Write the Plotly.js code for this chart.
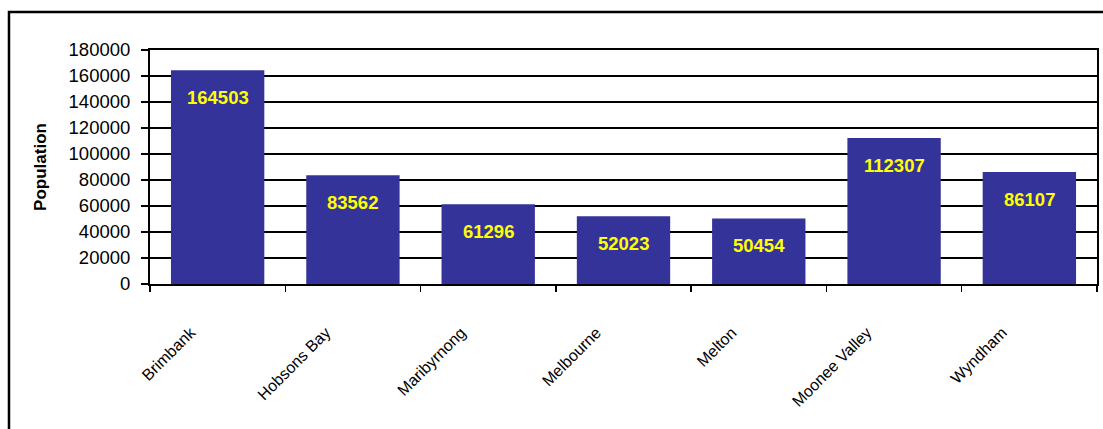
<!DOCTYPE html>
<html>
<head>
<meta charset="utf-8">
<script src="https://cdn.plot.ly/plotly-3.0.1.min.js"></script>
<style>
html,body{margin:0;padding:0;background:#fff;}
#chart{width:1103px;height:429px;}
</style>
</head>
<body>
<div id="chart"></div>
<script>
const categories = ["Brimbank", "Hobsons Bay", "Maribyrnong", "Melbourne", "Melton", "Moonee Valley", "Wyndham"];
const population = [164503, 83562, 61296, 52023, 50454, 112307, 86107];
const yTicks = [0, 20000, 40000, 60000, 80000, 100000, 120000, 140000, 160000, 180000];

const trace = {
  type: 'bar',
  x: categories,
  y: population,
  marker: {color: '#333399', line: {width: 0}},
  hoverinfo: 'none'
};

const valueLabels = categories.map((c, i) => ({
  x: c, y: population[i], xref: 'x', yref: 'y',
  text: '<b>' + population[i] + '</b>',
  showarrow: false, yanchor: 'middle', xanchor: 'center', yshift: -27,
  font: {family: 'Liberation Sans, Arial, sans-serif', size: 18.5, color: '#FFFF00'}
}));

const layout = {
  width: 1103, height: 429,
  margin: {l: 150, r: 6, t: 50, b: 145},
  paper_bgcolor: '#ffffff',
  plot_bgcolor: '#ffffff',
  showlegend: false,
  bargap: 0.31,
  font: {family: 'Liberation Sans, Arial, sans-serif', color: '#000'},
  xaxis: {
    type: 'category',
    tickson: 'boundaries',
    ticks: 'outside', ticklen: 6, tickwidth: 1.5, tickcolor: '#000',
    showline: true, linecolor: '#000', linewidth: 2, mirror: true,
    showgrid: false,
    tickangle: -45,
    ticklabelstandoff: 31,
    ticklabelshift: -27,
    tickfont: {family: 'Liberation Sans Narrow, Arial Narrow, Liberation Sans, Arial, sans-serif', size: 16, color: '#000'},
    automargin: false
  },
  yaxis: {
    range: [0, 180000],
    tickmode: 'array', tickvals: yTicks, ticktext: yTicks.map(String),
    ticks: 'outside', ticklen: 7, tickwidth: 1.5, tickcolor: '#000',
    ticklabelstandoff: 7,
    showline: true, linecolor: '#000', linewidth: 2, mirror: true,
    showgrid: true, gridcolor: '#000', gridwidth: 1.8,
    zeroline: false,
    tickfont: {family: 'Liberation Sans, Arial, sans-serif', size: 18.5, color: '#000'},
    title: {text: 'Population', font: {family: 'Liberation Sans, Arial, sans-serif', size: 17, color: '#000', weight: 'bold'}, standoff: 18},
    automargin: false
  },
  annotations: valueLabels,
  shapes: [{
    type: 'rect', xref: 'paper', yref: 'paper',
    x0: -0.1489, x1: 1.02, y0: -0.8, y1: 1.1624,
    line: {color: '#000', width: 2.5}, fillcolor: 'rgba(0,0,0,0)', layer: 'below'
  }]
};

Plotly.newPlot('chart', [trace], layout, {staticPlot: true, displayModeBar: false});
</script>
</body>
</html>
